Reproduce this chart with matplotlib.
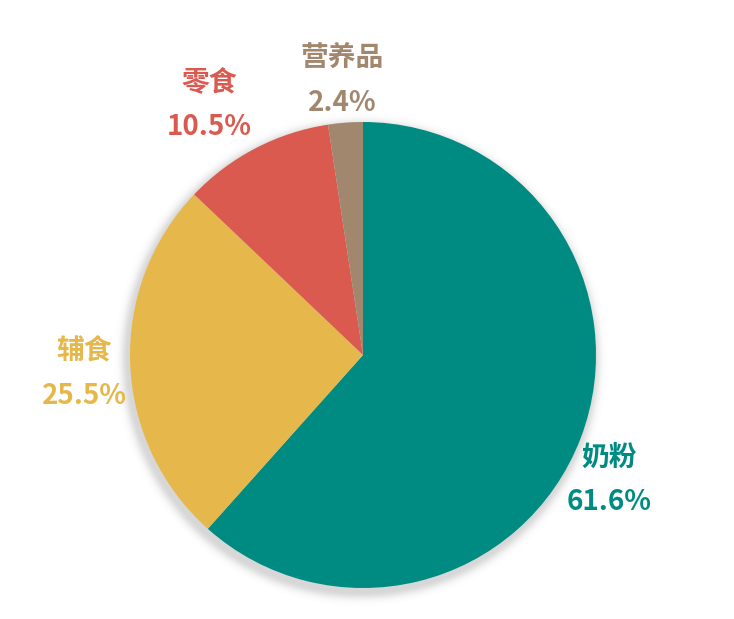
import numpy as np
import matplotlib
matplotlib.use("Agg")
import matplotlib.pyplot as plt

plt.rcParams['font.family'] = ['Noto Sans CJK SC', 'DejaVu Sans']

categories = ["奶粉", "辅食", "零食", "营养品"]
shares = [61.6, 25.5, 10.5, 2.4]
colors = ["#008B82", "#E6B84B", "#DA5A50", "#A2876F"]

W, H = 734, 619
fig = plt.figure(figsize=(W / 100, H / 100), dpi=100)
ax = fig.add_axes([0, 0, 1, 1])

# pie centre and radius in pixels
cx, cy, R = 363, 355, 233
xlim = (-cx / R, (W - cx) / R)
ylim = (-(H - cy) / R, cy / R)

# soft drop shadow under the disc
xs = np.linspace(xlim[0], xlim[1], 600)
ys = np.linspace(ylim[0], ylim[1], 500)
X, Y = np.meshgrid(xs, ys)
D = np.hypot(X + 0.01, Y + 0.02)
alpha = np.where(D > 1, 0.28 * np.exp(-((D - 1) / 0.03) ** 2), 0.28)
img = np.zeros(X.shape + (4,))
img[..., :3] = 0.45
img[..., 3] = alpha
ax.imshow(img, extent=(xs[0], xs[-1], ys[0], ys[-1]), origin="lower",
          zorder=0, interpolation="bilinear")

wedges, _ = ax.pie(shares, colors=colors, startangle=90, counterclock=False,
                   radius=1, wedgeprops=dict(linewidth=0), center=(0, 0),
                   frame=True)
for w in wedges:
    w.set_zorder(2)
ax.set_xlim(*xlim)
ax.set_ylim(*ylim)
ax.set_aspect("auto")
ax.axis("off")

label_dist = [1.185, 1.2, 1.26, 1.18]
label_shift = [-6, 1.5, 4, 0]
for w, name, v, c, d, s in zip(wedges, categories, shares, colors,
                               label_dist, label_shift):
    ang = np.deg2rad((w.theta1 + w.theta2) / 2 + s)
    x, y = d * np.cos(ang), d * np.sin(ang)
    ax.text(x, y + 0.095, name, color=c, fontsize=20, fontweight="bold",
            ha="center", va="center")
    ax.text(x, y - 0.095, f"{v:.1f}%", color=c, fontsize=20,
            fontweight="bold", ha="center", va="center")

fig.savefig("out.png", dpi=100, facecolor="white")
